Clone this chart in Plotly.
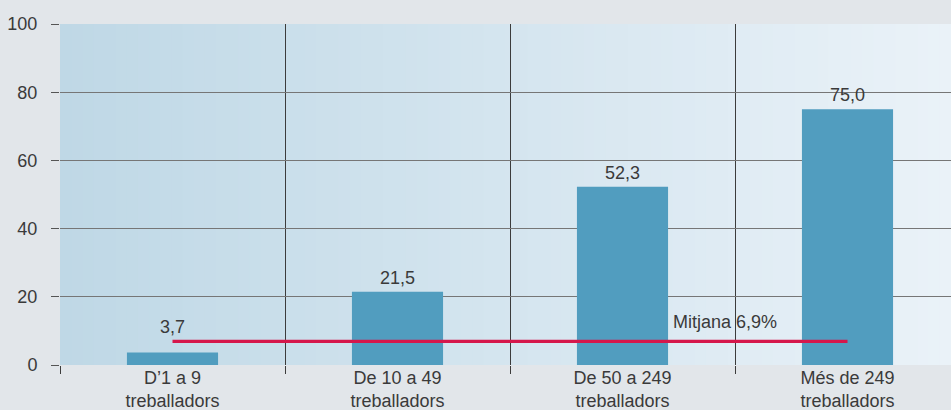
import plotly.graph_objects as go

categories = ["D’1 a 9<br>treballadors", "De 10 a 49<br>treballadors",
              "De 50 a 249<br>treballadors", "Més de 249<br>treballadors"]
values = [3.7, 21.5, 52.3, 75.0]
value_labels = ["3,7", "21,5", "52,3", "75,0"]
mean_value = 6.9
mean_label = "Mitjana 6,9%"
y_ticks = [0, 20, 40, 60, 80, 100]

x_pos = list(range(len(categories)))
FONT = "Liberation Sans, Arial, sans-serif"
TXT = "#3a3a3a"

fig = go.Figure()

# gradient background for the plot area
n = 80
c0 = (191, 216, 230)
c1 = (234, 242, 248)
for i in range(n):
    t = i / (n - 1)
    col = tuple(round(c0[k] + (c1[k] - c0[k]) * t) for k in range(3))
    fig.add_shape(type="rect", xref="x domain", yref="y domain",
                  x0=i / n, x1=(i + 1) / n + 0.002, y0=0, y1=1,
                  fillcolor="rgb(%d,%d,%d)" % col, line_width=0, layer="below")

fig.add_trace(go.Bar(
    x=x_pos, y=values, width=0.405,
    marker=dict(color="#519dbf", line_width=0),
    hoverinfo="skip",
))

fig.add_trace(go.Scatter(
    x=[x_pos[0], x_pos[-1]], y=[mean_value, mean_value], mode="lines",
    line=dict(color="#d5174b", width=3.3), hoverinfo="skip",
))

for i, (xv, yv, lab) in enumerate(zip(x_pos, values, value_labels)):
    fig.add_annotation(x=xv, y=yv, text=lab, showarrow=False,
                       yshift=25 if i == 0 else 14,
                       font=dict(size=18, color=TXT, family=FONT))

fig.add_annotation(x=2.456, y=mean_value, text=mean_label, showarrow=False,
                   yshift=19, font=dict(size=18, color=TXT, family=FONT))

fig.update_layout(
    width=951, height=410,
    margin=dict(l=60, r=0, t=24, b=45, autoexpand=False),
    paper_bgcolor="#e2e6ea", plot_bgcolor="rgba(0,0,0,0)",
    showlegend=False,
    font=dict(family=FONT, size=18, color=TXT),
)
fig.update_xaxes(
    range=[-0.5, 3.46], tickvals=x_pos, ticktext=categories,
    showgrid=False, ticks="", zeroline=False, showline=False,
    tickfont=dict(size=18, color=TXT), automargin=False,
    minor=dict(tick0=-0.5, dtick=1, showgrid=True, gridcolor="#3c3c3c",
               gridwidth=1, ticks="outside", ticklen=8, tickcolor="#3c3c3c"),
)
fig.update_yaxes(
    range=[0, 100], tickvals=y_ticks, showgrid=True, gridcolor="#767676",
    gridwidth=1.3, zeroline=False, ticks="outside", ticklen=8,
    tickcolor="#555555", showline=False, automargin=False,
    tickfont=dict(size=18, color=TXT), ticklabelstandoff=10,
)

fig.write_html(
    "out.html",
    config={"displayModeBar": False},
    post_script="document.body.style.margin='0';document.body.style.background='#e2e6ea';"
                "document.documentElement.style.overflow='hidden';",
)
